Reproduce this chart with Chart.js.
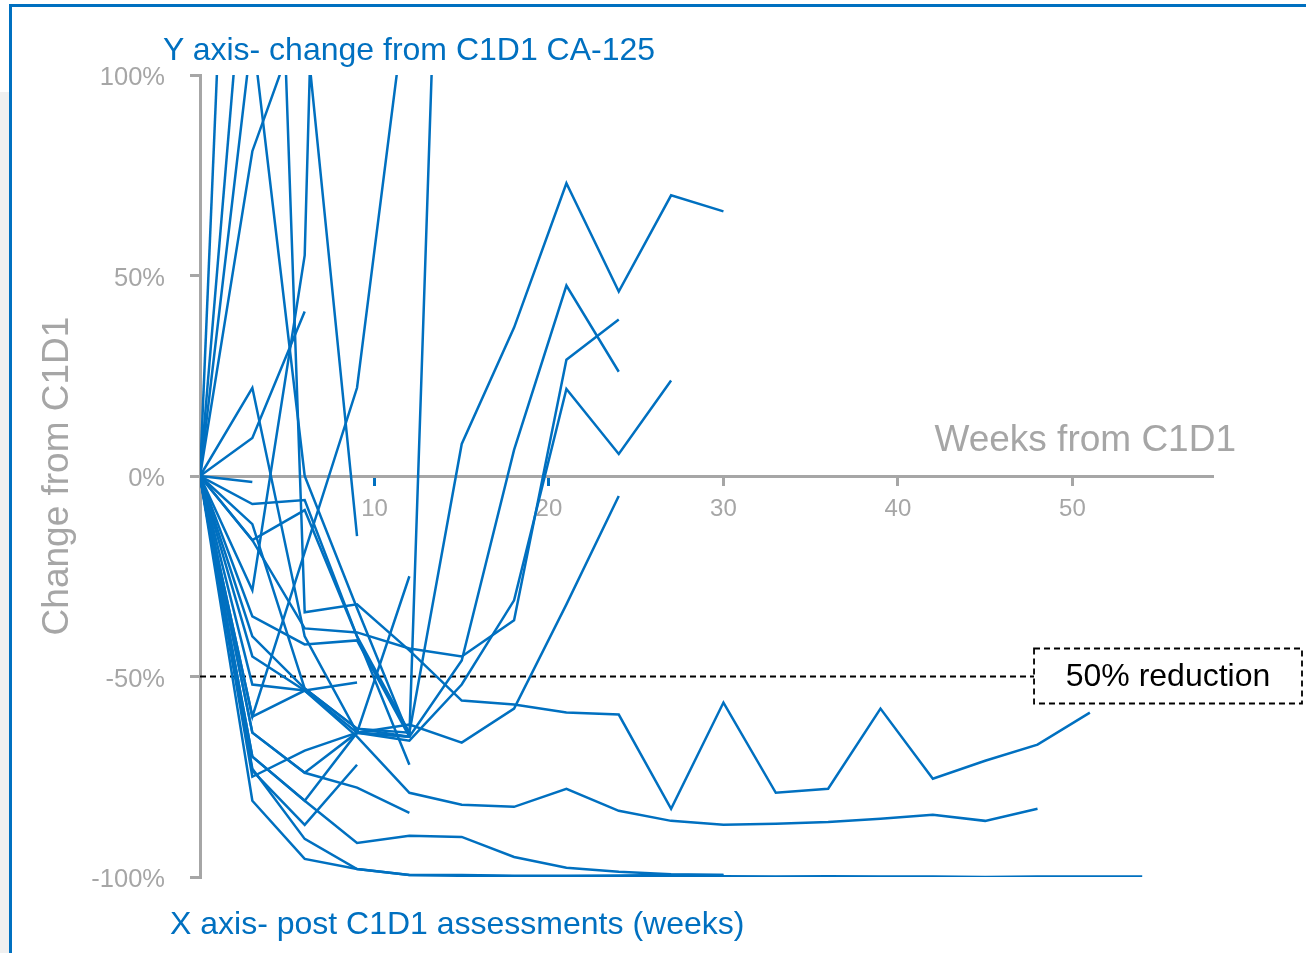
<!DOCTYPE html>
<html>
<head>
<meta charset="utf-8">
<title>CA-125 change from C1D1</title>
<script src="https://cdn.jsdelivr.net/npm/chart.js@4.4.1/dist/chart.umd.min.js"></script>
<style>
  html, body { margin: 0; padding: 0; background: #fff; }
  body { width: 1306px; height: 953px; position: relative; overflow: hidden; font-family: 'Liberation Sans', Arial, sans-serif; }
  .shade { position: absolute; left: 0; top: 92px; width: 9px; bottom: 0; background: #f0f0f0; }
  .frame { position: absolute; left: 9px; top: 4px; right: 0; bottom: 0; border-top: 3px solid #0070c0; border-left: 3px solid #0070c0; }
  .caption { position: absolute; color: #0070c0; font-size: 32px; line-height: 1; white-space: nowrap; }
  #capY { left: 163px; top: 33px; }
  #capX { left: 170px; top: 907px; }
  canvas { position: absolute; left: 0; top: 0; }
</style>
</head>
<body>
<div class="shade"></div>
<div class="frame"></div>
<canvas id="myChart" width="1306" height="953"></canvas>
<div class="caption" id="capY">Y axis- change from C1D1 CA-125</div>
<div class="caption" id="capX">X axis- post C1D1 assessments (weeks)</div>

<script>
// each patient: [week, % change from C1D1]
const risers = [
  [[0, 0], [3, 310]],
  [[0, 0], [3, 156]],
  [[0, 0], [3, 111], [6, 0], [9, -33], [12, -65]],
  [[0, 0], [3, -28.5], [6, 55], [6.3, 102], [9, -15]],
  [[0, 0], [3, 9.5], [6, 41]],
  [[0, 0], [3, 22], [6, -40], [9, -64], [12, -65], [15, 324]],
  [[0, 0], [3, -60], [9, 22], [12, 125]],
]

const lateRisers = [
  [[0, 0], [3, -40], [6, -53], [9, -63], [12, -64], [15, 8], [18, 37], [21, 73], [24, 46], [27, 70], [30, 66]],
  [[0, 0], [3, -64], [6, -74], [9, -64], [12, -65], [15, -46], [18, 6.5], [21, 47.5], [24, 26]],
  [[0, 0], [3, -16], [6, -38], [9, -39], [12, -43], [15, -45], [18, -36], [21, 29], [24, 39]],
  [[0, 0], [3, -70], [6, -81], [9, -64], [12, -66], [15, -52], [18, -31], [21, 21.7], [24, 5.5], [27, 23.8]],
  [[0, 0], [3, -75], [6, -68.5], [9, -64], [12, -62], [15, -66.5], [18, -58], [21, -32], [24, -5]],
]

const shortResponders = [
  [[0, 0], [3, -52], [6, -53.5], [9, -51.5]],
  [[0, 0], [3, -64], [6, -74], [9, -77.7], [12, -84]],
  [[0, 0], [3, -73.5], [6, -87], [9, -72]],
  [[0, 0], [3, -7], [6, -6], [9, -40], [12, -72]],
  [[0, 0], [3, -16], [6, -8.5], [9, -40], [12, -64]],
  [[0, 0], [3, -12], [6, -53], [9, -63], [12, -65]],
  [[0, 0], [3, -1.5]],
  [[0, 0], [3, -35], [6, -42], [9, -41], [12, -65]],
  [[0, 0], [3, -45], [6, -53.5], [9, -64], [12, -25]],
  [[0, 0], [3, -73], [6, -90.5], [9, -98], [12, -99.5], [15, -99.5], [18, -99.7], [21, -99.7], [24, -99.6], [27, -99.5], [30, -99.5]],
]

const longResponders = [
  [[0, 0], [3, 81], [4.9, 104], [6, -34], [9, -32], [12, -43.5], [15, -56], [18, -57], [21, -59], [24, -59.5], [27, -83], [30, -56.5], [33, -79], [36, -78], [39, -58], [42, -75.5], [45, -71], [48, -67], [51, -59]],
  [[0, 0], [3, -60], [6, -53.5], [9, -65], [12, -79], [15, -82], [18, -82.5], [21, -78], [24, -83.5], [27, -86], [30, -87], [33, -86.7], [36, -86.3], [39, -85.5], [42, -84.5], [45, -86], [48, -83]],
  [[0, 0], [3, -70], [6, -81], [9, -91.5], [12, -89.7], [15, -90], [18, -95], [21, -97.7], [24, -98.7], [27, -99.3], [30, -99.5]],
  [[0, 0], [3, -81], [6, -95.5], [9, -98], [12, -99.5], [15, -99.7], [18, -99.8], [21, -99.8], [24, -99.8], [27, -99.8], [30, -99.8], [33, -99.9], [36, -99.8], [39, -99.9], [42, -99.9], [45, -100], [48, -99.9], [51, -99.9], [54, -99.9]],
]

const xTicks = [10, 20, 30, 40, 50]
const yTicks = [-100, -50, 0, 50, 100]
const reductionLevel = -50
const reductionLabel = '50% reduction'
const boxStartWeek = 47.8
const xTitle = 'Weeks from C1D1'

const lineBlue = '#0070c0'
const axisGrey = '#a6a6a6'
const fontFamily = "'Liberation Sans', Arial, sans-serif"

Chart.defaults.font.family = fontFamily

const patients = [...risers, ...lateRisers, ...shortResponders, ...longResponders]

const datasets = patients.map((p) => ({
  data: p.map(([x, y]) => ({ x, y })),
  borderColor: lineBlue,
  borderWidth: 2.5,
  pointRadius: 0,
  tension: 0,
  fill: false,
}))

// dashed 50% reduction line
datasets.push({
  data: [{ x: 0, y: reductionLevel }, { x: boxStartWeek, y: reductionLevel }],
  borderColor: '#000',
  borderWidth: 1.8,
  borderDash: [6, 4],
  pointRadius: 0,
  fill: false,
})

const annotations = {
  id: 'annotations',
  afterDatasetsDraw(chart) {
    const { ctx, scales } = chart
    const yMid = scales.y.getPixelForValue(reductionLevel)
    const left = scales.x.getPixelForValue(boxStartWeek)
    const right = chart.width - 4
    ctx.save()
    ctx.setLineDash([6, 4])
    ctx.lineWidth = 1.8
    ctx.strokeStyle = '#000'
    ctx.strokeRect(left, yMid - 28, right - left, 55)
    ctx.setLineDash([])
    ctx.fillStyle = '#000'
    ctx.font = '32px ' + fontFamily
    ctx.textAlign = 'center'
    ctx.textBaseline = 'middle'
    ctx.fillText(reductionLabel, (left + right) / 2, yMid + 1)

    // x axis title sits above the axis line, past its end
    const y0 = scales.y.getPixelForValue(0)
    ctx.fillStyle = axisGrey
    ctx.font = '37px ' + fontFamily
    ctx.textAlign = 'right'
    ctx.fillText(xTitle, scales.x.right + 24, y0 - 35)
    ctx.restore()
  },
}

const ctx = document.getElementById('myChart').getContext('2d')
const myChart = new Chart(ctx, {
  type: 'line',
  data: { datasets },
  plugins: [annotations],
  options: {
    responsive: false,
    animation: false,
    devicePixelRatio: 1,
    layout: { padding: { left: 0, top: 75, right: 94, bottom: 76 } },
    plugins: { legend: { display: false }, tooltip: { enabled: false } },
    scales: {
      x: {
        type: 'linear',
        min: 0,
        max: 58,
        position: { y: 0 },
        afterFit: (s) => { s.height = 0 },
        afterBuildTicks: (s) => { s.ticks = xTicks.map((v) => ({ value: v })) },
        border: { color: axisGrey, width: 3 },
        grid: {
          drawOnChartArea: false,
          drawTicks: true,
          tickLength: 8,
          lineWidth: 3,
          color: axisGrey,
          tickColor: (c) => (c.tick && c.tick.value <= 20 ? lineBlue : axisGrey),
        },
        ticks: { color: axisGrey, font: { size: 24 }, padding: 11, maxRotation: 0, autoSkip: false },
      },
      y: {
        min: -100,
        max: 100,
        position: 'left',
        afterFit: (s) => { s.width = 200 },
        afterBuildTicks: (s) => { s.ticks = yTicks.map((v) => ({ value: v })) },
        border: { color: axisGrey, width: 3 },
        grid: { drawOnChartArea: false, drawTicks: true, tickLength: 10, lineWidth: 3, color: axisGrey },
        ticks: { color: axisGrey, font: { size: 25.5 }, padding: 25, labelOffset: 3, callback: (v) => v + '%' },
        title: { display: true, text: 'Change from C1D1', color: axisGrey, font: { size: 37 }, padding: { top: 36 } },
      },
    },
  },
})
</script>
</body>
</html>
